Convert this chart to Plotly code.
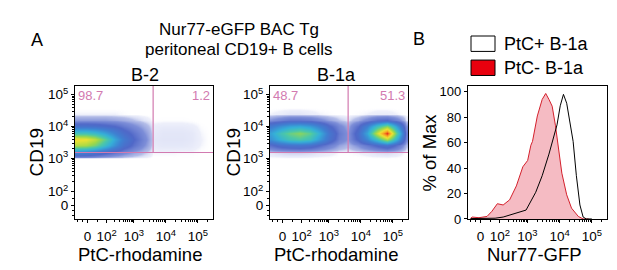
import plotly.graph_objects as go
import math

# ---------------- data ----------------
# axis positions (display units of the biexponential scale)
x_tickvals = [1.55, 2.15, 3, 4, 5]
x_ticktext = ["0", "10<sup>2</sup>", "10<sup>3</sup>", "10<sup>4</sup>", "10<sup>5</sup>"]
y_tickvals = [1.51, 1.95, 3, 4, 5]
y_ticktext = ["0", "10<sup>2</sup>", "10<sup>3</sup>", "10<sup>4</sup>", "10<sup>5</sup>"]

# density grid (PtC-rhodamine vs CD19), estimated from the dot plots
grid_x = [1.2, 1.5, 1.8, 2.1, 2.4, 2.7, 3.0, 3.3, 3.6, 3.9, 4.2, 4.5, 4.8, 5.1, 5.4]
grid_y = [3.0, 3.2, 3.4, 3.6, 3.8, 4.0, 4.2, 4.4, 4.6]

b2_density = [
    [0, 0, 0, 0, 0, 0, 0, 0, 0, 0, 0, 0, 0, 0, 0],
    [22, 20, 16, 11, 7, 4, 2, 0.8, 0.08, 0.08, 0.08, 0.06, 0.06, 0.02, 0],
    [62, 60, 52, 38, 24, 13, 7, 3, 0.2, 0.25, 0.25, 0.25, 0.2, 0.08, 0],
    [74, 72, 64, 48, 30, 17, 9, 4, 0.25, 0.3, 0.3, 0.3, 0.25, 0.1, 0],
    [42, 42, 38, 30, 20, 12, 7, 3, 0.2, 0.28, 0.28, 0.28, 0.24, 0.08, 0],
    [14, 14, 13, 11, 9, 6, 3.5, 1.5, 0.15, 0.2, 0.2, 0.2, 0.15, 0.04, 0],
    [2.5, 2.5, 2.5, 2.5, 2, 1.5, 0.8, 0.3, 0.02, 0.04, 0.04, 0.04, 0.02, 0, 0],
    [0.1, 0.1, 0.1, 0.1, 0.1, 0.05, 0, 0, 0, 0, 0, 0, 0, 0, 0],
    [0, 0, 0, 0, 0, 0, 0, 0, 0, 0, 0, 0, 0, 0, 0],
]

b1a_density = [
    [0, 0, 0, 0, 0, 0, 0, 0, 0, 0, 0, 0, 0, 0, 0],
    [0.3, 0.5, 0.6, 0.6, 0.5, 0.3, 0.2, 0.05, 0.05, 0.1, 0.2, 0.4, 0.5, 0.3, 0],
    [8, 12, 14, 15, 13, 9, 5, 2, 1, 3, 6, 10, 14, 8, 1],
    [25, 35, 42, 45, 40, 28, 14, 5, 2.5, 10, 22, 40, 62, 35, 4],
    [30, 42, 50, 55, 48, 34, 16, 6, 2.5, 12, 30, 66, 100, 50, 5],
    [18, 25, 30, 32, 28, 20, 10, 4, 1.5, 8, 20, 40, 55, 30, 3],
    [3, 5, 7, 7, 6, 4, 2, 0.8, 0.3, 1.5, 4, 8, 9, 5, 0.3],
    [0.1, 0.2, 0.3, 0.3, 0.2, 0.1, 0.05, 0, 0, 0.05, 0.1, 0.2, 0.2, 0.1, 0],
    [0, 0, 0, 0, 0, 0, 0, 0, 0, 0, 0, 0, 0, 0, 0],
]

gate_x = 3.6
gate_y = 3.18
b2_pcts = ["98.7", "1.2"]
b1a_pcts = ["48.7", "51.3"]

# Nur77-GFP histograms (% of max)
neg_x = [1.24, 1.29, 1.5, 1.75, 1.9, 2.07, 2.25, 2.45, 2.66, 2.86, 3.01, 3.11, 3.16, 3.31,
         3.46, 3.57, 3.67, 3.77, 3.87, 3.97, 4.07, 4.22, 4.37, 4.58, 4.73, 4.9]
neg_y = [0.5, 1.5, 1, 2, 6, 12, 11, 15, 26, 41, 46, 58, 61, 81,
         94, 98.7, 94, 88.7, 73.7, 56, 36, 19, 8.5, 2, 0, 0]
pos_x = [1.24, 1.6, 2.0, 2.25, 2.66, 2.96, 3.26, 3.46, 3.67, 3.82, 3.92, 4.02, 4.12,
         4.22, 4.32, 4.42, 4.52, 4.63, 4.73, 4.83, 5.0]
pos_y = [0.3, 0.3, 0.6, 1.5, 4.7, 7, 21, 34, 51, 66, 74, 89, 98,
         91, 76, 61, 34, 11, 1.5, 0, 0]
hist_yticks = [0, 20, 40, 60, 80, 100]

# ---------------- figure ----------------
W, H = 617, 270
FONT = "Liberation Sans, Arial, sans-serif"
PINK = "#d27ab0"
TICKSIZE = 13.5

def px(x):
    return x / W

def py(y):
    return 1 - y / H

colorscale = [
    [0.0, "rgba(255,255,255,0)"],
    [0.001, "rgba(220,224,246,0.5)"],
    [0.008, "#b4bde8"],
    [0.03, "#7d8ed8"],
    [0.09, "#5068c8"],
    [0.2, "#3f80d2"],
    [0.33, "#35b0d8"],
    [0.45, "#4cc8a8"],
    [0.58, "#9cd84a"],
    [0.72, "#eee232"],
    [0.86, "#f8a024"],
    [1.0, "#e4301a"],
]

def minor_vals(major, top):
    vals = []
    pairs = [(major[1], major[2]), (major[2], major[3]), (major[3], major[4])]
    for a, b in pairs:
        for k in range(2, 10):
            vals.append(a + (b - a) * math.log10(k))
    vals += [major[0] - 0.15, major[0] - 0.3, (major[0] + major[1]) / 2]
    vals += [major[4] + 0.3]
    return [v for v in vals if v < top]

fig = go.Figure()

fig.add_trace(go.Heatmap(x=grid_x, y=grid_y, z=b2_density, zmin=0, zmax=100,
                         zsmooth="best", colorscale=colorscale, showscale=False,
                         xaxis="x", yaxis="y", hoverinfo="skip"))
fig.add_trace(go.Heatmap(x=grid_x, y=grid_y, z=b1a_density, zmin=0, zmax=100,
                         zsmooth="best", colorscale=colorscale, showscale=False,
                         xaxis="x2", yaxis="y2", hoverinfo="skip"))

fig.add_trace(go.Scatter(x=neg_x, y=neg_y, mode="lines", fill="tozeroy",
                         line=dict(color="#d4202c", width=1),
                         fillcolor="rgba(236,120,135,0.5)", name="PtC- B-1a",
                         xaxis="x3", yaxis="y3", showlegend=False))
fig.add_trace(go.Scatter(x=pos_x, y=pos_y, mode="lines",
                         line=dict(color="black", width=1), name="PtC+ B-1a",
                         xaxis="x3", yaxis="y3", showlegend=False))

XR = [1.16, 5.47]
YR = [1.09, 5.27]
ydom = [py(217), py(79)]

def xaxis(domain, anchor):
    return dict(domain=domain, anchor=anchor, range=XR, tickmode="array",
                tickvals=x_tickvals, ticktext=x_ticktext, tickangle=0,
                showgrid=False, zeroline=False, showline=True, linecolor="black",
                linewidth=1.2, mirror=True, ticks="outside", ticklen=3,
                ticklabelstandoff=2,
                tickcolor="black", tickfont=dict(size=TICKSIZE, color="black", family=FONT),
                minor=dict(tickvals=minor_vals(x_tickvals, XR[1]), ticks="outside",
                           ticklen=2, tickcolor="black"))

def yaxis(anchor):
    return dict(domain=ydom, anchor=anchor, range=YR, tickmode="array",
                tickvals=y_tickvals, ticktext=y_ticktext,
                showgrid=False, zeroline=False, showline=True, linecolor="black",
                linewidth=1.2, mirror=True, ticks="outside", ticklen=3,
                tickcolor="black", tickfont=dict(size=TICKSIZE, color="black", family=FONT),
                minor=dict(tickvals=minor_vals(y_tickvals, YR[1]), ticks="outside",
                           ticklen=2, tickcolor="black"))

x3 = xaxis([px(460), px(599)], "y3")
y3 = dict(domain=ydom, anchor="x3", range=[0, 104.5], tickmode="array",
          tickvals=hist_yticks, ticktext=[str(v) for v in hist_yticks],
          showgrid=False, zeroline=False, showline=True, linecolor="black",
          linewidth=1.2, mirror=True, ticks="outside", ticklen=3, tickcolor="black",
          tickfont=dict(size=13, color="black", family=FONT))

fig.update_layout(
    width=W, height=H, margin=dict(l=0, r=0, t=0, b=0),
    paper_bgcolor="white", plot_bgcolor="white",
    font=dict(family=FONT, color="black"),
    showlegend=False,
    xaxis=xaxis([px(67), px(205)], "y"), yaxis=yaxis("x"),
    xaxis2=xaxis([px(262), px(400)], "y2"), yaxis2=yaxis("x2"),
    xaxis3=x3, yaxis3=y3,
)

shapes = []
for xr, yr in (("x", "y"), ("x2", "y2")):
    shapes.append(dict(type="line", xref=xr, yref=yr, x0=gate_x, x1=gate_x,
                       y0=gate_y, y1=YR[1], line=dict(color=PINK, width=1.2)))
    shapes.append(dict(type="line", xref=xr, yref=yr, x0=XR[0], x1=XR[1],
                       y0=gate_y, y1=gate_y, line=dict(color=PINK, width=1.2)))
# legend swatches
shapes.append(dict(type="rect", xref="paper", yref="paper", x0=px(463), x1=px(487),
                   y0=py(43), y1=py(27), line=dict(color="black", width=1),
                   fillcolor="white"))
shapes.append(dict(type="rect", xref="paper", yref="paper", x0=px(463), x1=px(487),
                   y0=py(68), y1=py(52), line=dict(color="black", width=1),
                   fillcolor="#e8000e"))
fig.update_layout(shapes=shapes)

ann = []
def text(t, x, y, size, xanchor="center", color="black", angle=0):
    ann.append(dict(text=t, x=px(x), y=py(y), xref="paper", yref="paper",
                    showarrow=False, xanchor=xanchor, yanchor="middle",
                    textangle=angle, font=dict(size=size, color=color, family=FONT)))

text("A", 29, 31, 18)
text("B", 411, 30, 18)
text("Nur77-eGFP BAC Tg", 231, 20.5, 17)
text("peritoneal CD19+ B cells", 231, 40.5, 17)
text("B-2", 137, 67, 18)
text("B-1a", 328, 67, 18)
text("CD19", 29, 148, 19, angle=-90)
text("CD19", 226, 148, 19, angle=-90)
text("% of Max", 422, 148, 18.5, angle=-90)
text("PtC-rhodamine", 132, 254, 18.5)
text("PtC-rhodamine", 328, 254, 18.5)
text("Nur77-GFP", 526, 254, 18.5)
text(b2_pcts[0], 68, 89, 13, xanchor="left", color=PINK)
text(b2_pcts[1], 204, 89, 13, xanchor="right", color=PINK)
text(b1a_pcts[0], 263, 89, 13, xanchor="left", color=PINK)
text(b1a_pcts[1], 399, 89, 13, xanchor="right", color=PINK)
text("PtC+ B-1a", 494, 35, 18, xanchor="left")
text("PtC- B-1a", 494, 60, 18, xanchor="left")
fig.update_layout(annotations=ann)

fig.write_html("out.html")
